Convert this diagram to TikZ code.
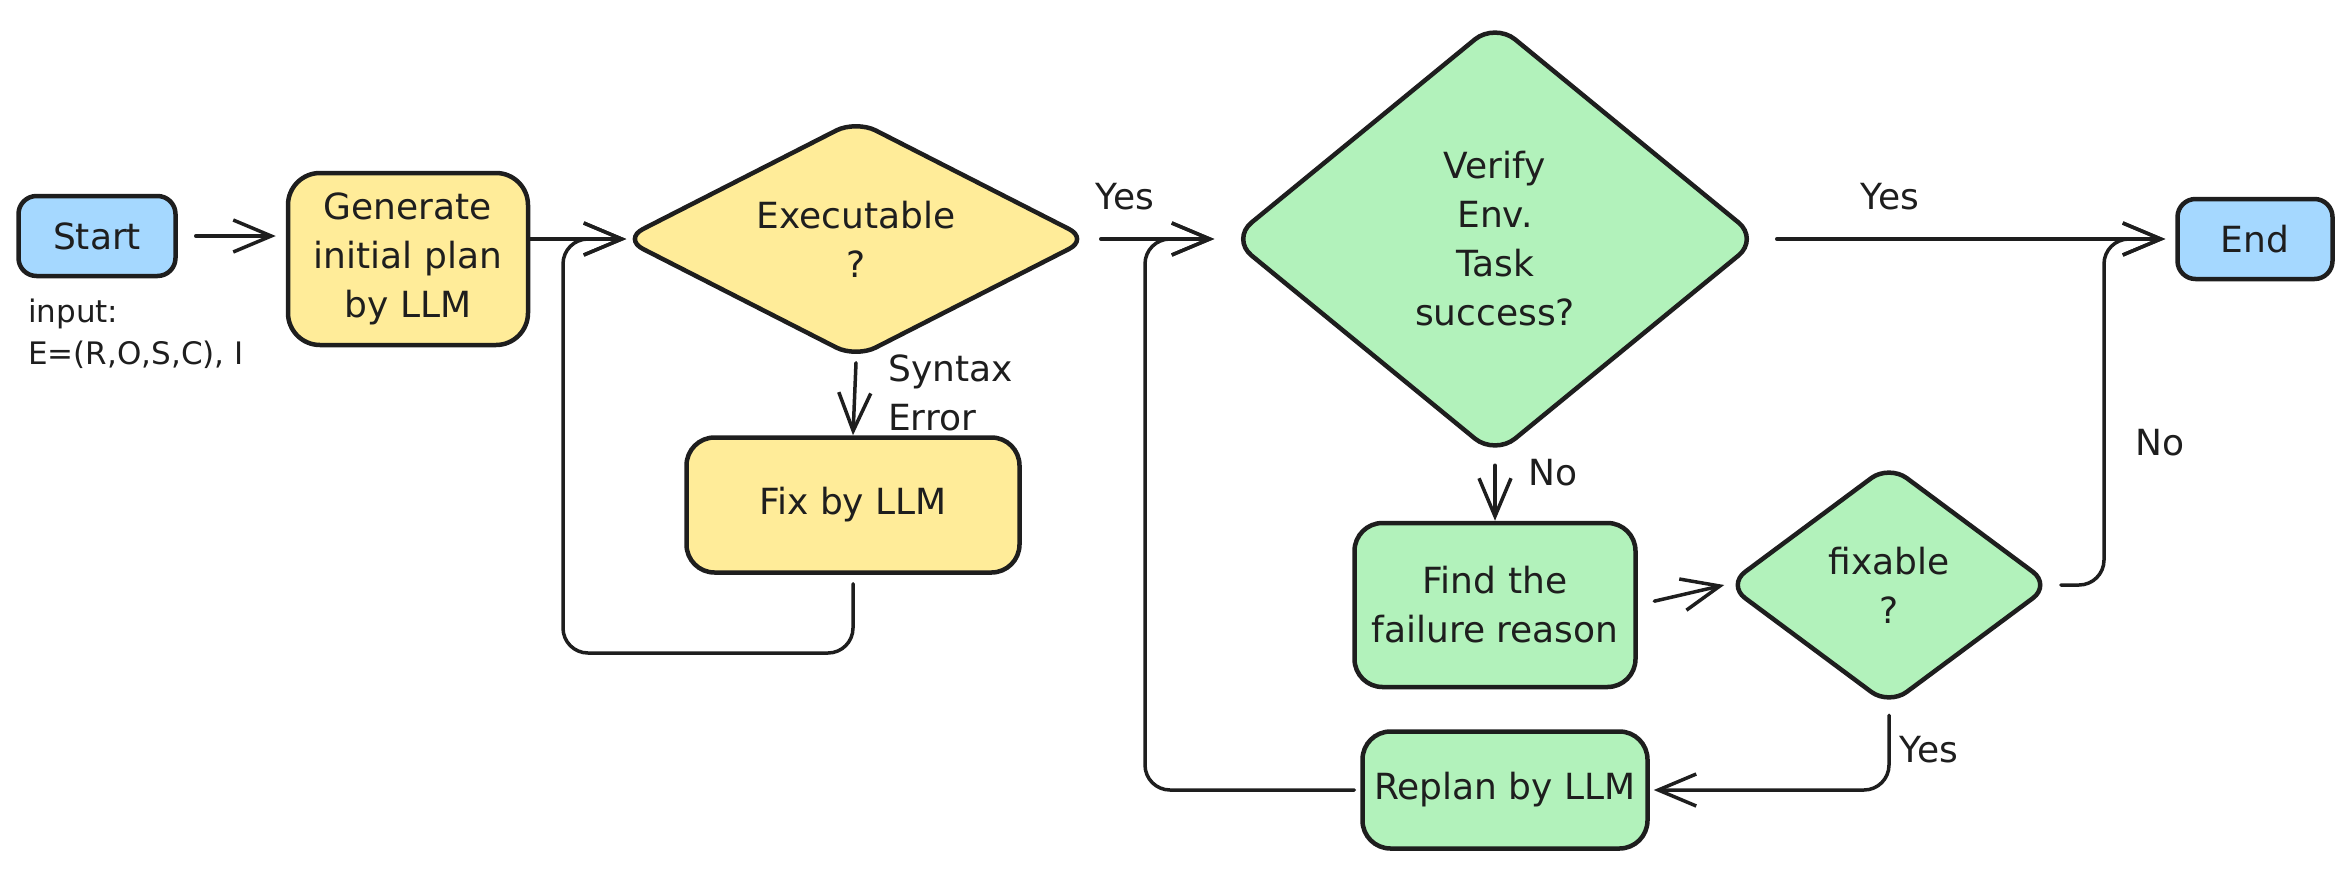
\documentclass[tikz,border=0pt]{standalone}
\usepackage{fontspec}
\setmainfont{DejaVu Sans}
\usetikzlibrary{shapes.geometric,arrows.meta}
\definecolor{ink}{HTML}{1E1E1E}
\definecolor{fyellow}{HTML}{FFEC99}
\definecolor{fgreen}{HTML}{B2F2BB}
\definecolor{fblue}{HTML}{A5D8FF}
\begin{document}
\begin{tikzpicture}[x=1pt,y=-1pt,
  txt/.style={text=ink, font=\fontsize{36}{49}\selectfont},
  box/.style={txt, draw=ink, line width=4.5pt, rounded corners=28pt, inner sep=0pt, align=center},
  dia/.style={txt, diamond, draw=ink, line width=4.5pt, inner sep=0pt, align=center},
  conn/.style={draw=ink, line width=3.5pt, line cap=round, line join=round},
  arr/.style={conn, -{Straight Barb[length=38pt,width=32pt]}},
  lbl/.style={txt, inner sep=0pt},
]
\useasboundingbox (0,0) rectangle (2351,868);

% nodes
\node[box, fill=fblue, minimum width=157pt, minimum height=80pt, rounded corners=18pt] (start) at (97,236) {Start};
\node[lbl, anchor=west, align=left, font=\fontsize{31}{42}\selectfont] (input) at (28,334) {input:\\E=(R,O,S,C), I};
\node[box, fill=fyellow, minimum width=240pt, minimum height=172pt, rounded corners=32pt] (gen) at (408,259) {Generate\\initial plan\\by LLM};
\node[dia, fill=fyellow, rounded corners=22pt, shape aspect=1.96, minimum width=467pt, minimum height=239pt] (exec) at (856,239) {Executable\\?};
\node[box, fill=fyellow, minimum width=333pt, minimum height=135pt] (fix) at (853,505) {Fix by LLM};
\node[dia, fill=fgreen, rounded corners=26pt, shape aspect=1.2, minimum width=529pt, minimum height=434pt] (verify) at (1495,239) {Verify\\Env.\\Task\\success?};
\node[box, fill=fblue, minimum width=155pt, minimum height=80pt, rounded corners=18pt] (end) at (2255,239) {End};
\node[box, fill=fgreen, minimum width=281pt, minimum height=164pt] (find) at (1495,605) {Find the\\failure reason};
\node[dia, fill=fgreen, rounded corners=22pt, shape aspect=1.34, minimum width=325pt, minimum height=242pt] (fixable) at (1889,585) {fixable\\?};
\node[box, fill=fgreen, minimum width=285pt, minimum height=117pt] (replan) at (1505,790) {Replan by LLM};

% labels
\node[lbl] (yes1) at (1125,197) {Yes};
\node[lbl] (yes2) at (1890,197) {Yes};
\node[lbl] (yes3) at (1929,750) {Yes};
\node[lbl] (no1) at (1553,473) {No};
\node[lbl] (no2) at (2160,443) {No};
\node[lbl, anchor=west, align=left] (syn) at (888,393) {Syntax\\Error};

% helper coordinates
\coordinate (loopA) at (563,653);
\coordinate (loopB) at (1145,239);
\coordinate (noC) at (2104,239);

% connectors
\draw[arr, shorten <=18pt, shorten >=10pt] (start.east) -- (start.east -| gen.west);
\draw[arr, shorten >=-6pt] (gen.east |- exec.west) -- (exec.west);
\draw[arr, rounded corners=25pt, shorten >=-6pt] ([yshift=-9pt]fix.south) |- (loopA) |- (exec.west);
\draw[arr] ([yshift=-2pt]exec.south) -- (fix.north);
\draw[arr, shorten <=9pt, shorten >=14pt] (exec.east) -- (verify.west);
\draw[arr, rounded corners=25pt, shorten >=14pt] ([xshift=-6pt]replan.west) -| (loopB) -- (verify.west);
\draw[arr, shorten <=15pt, shorten >=10pt] (verify.east) -- (end.west);
\draw[arr] ([yshift=-7pt]verify.south) -- (find.north);
\draw[arr, shorten <=17pt] (find.east) -- (fixable.west);
\draw[arr, rounded corners=25pt, shorten >=10pt] ([xshift=7pt]fixable.east) -| (noC) -- (end.west);
\draw[arr, rounded corners=25pt, shorten >=4pt] ([yshift=-7pt]fixable.south) |- (replan.east);
\end{tikzpicture}
\end{document}
